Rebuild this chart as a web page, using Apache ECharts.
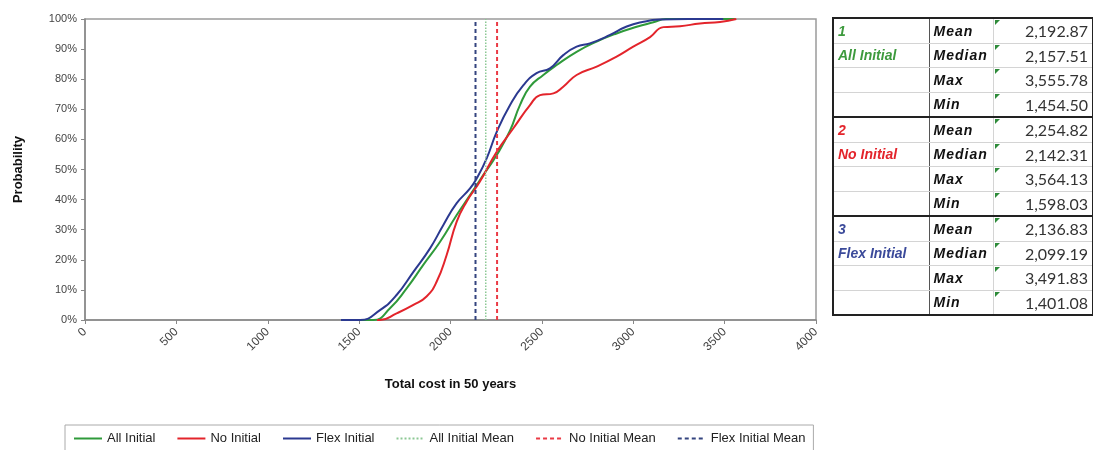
<!DOCTYPE html>
<html lang="en">

<head>
  <meta charset="UTF-8">
  <title>Total cost in 50 years - cumulative probability</title>
  <script src="https://cdn.jsdelivr.net/npm/echarts@6/dist/echarts.min.js"></script>
  <style>
    body {
      margin: 0;
      background: #fff;
      font-family: "Liberation Sans", Arial, sans-serif;
    }

    #wrap {
      position: relative;
      width: 1093px;
      height: 450px;
    }

    #chart {
      width: 1093px;
      height: 450px;
    }

    #stats {
      position: absolute;
      left: 832px;
      top: 17px;
      width: 260px;
      border-collapse: collapse;
      border: 2px solid #222;
      table-layout: fixed;
    }

    #stats td {
      height: 23.5px;
      padding: 0 4px;
      border: 1px solid #d4d4d4;
      font-size: 14px;
      white-space: nowrap;
      overflow: hidden;
    }

    #stats td.grp {
      font-weight: bold;
      font-style: italic;
      border-right: 1px solid #555;
    }

    #stats td.stat {
      font-weight: bold;
      font-style: italic;
      letter-spacing: 1px;
      color: #111;
    }

    #stats td.num {
      position: relative;
      text-align: right;
      font-family: Lato, "Open Sans", sans-serif;
      font-size: 16px;
      color: #333;
    }

    #stats td.num::before {
      content: "";
      position: absolute;
      left: 1px;
      top: 1px;
      border-top: 5px solid #2e8b3a;
      border-right: 5px solid transparent;
    }

    #stats tr.sep td {
      border-top: 2px solid #222;
    }
  </style>
</head>

<body>
<div id="wrap">
  <div id="chart"></div>
  <table id="stats"></table>
</div>
</body>

<script>
  // cumulative curves: cost (x) and probability in % (y)
  let allCost = [1454, 1578, 1669, 1760, 1851, 1943, 2034, 2107, 2180, 2253, 2326, 2380, 2435, 2508, 2581, 2690, 2800, 2909, 3019, 3110, 3180, 3556];
  let allProb = [0, 0, 3.9, 10.5, 18.3, 26, 34.9, 41.5, 48.2, 54.8, 63, 71.4, 77.5, 81.4, 84.7, 89.1, 92.5, 95.2, 97.4, 98.9, 100, 100];

  let noCost = [1598, 1614, 1705, 1797, 1869, 1924, 1979, 2034, 2088, 2161, 2253, 2344, 2435, 2490, 2563, 2617, 2690, 2800, 2909, 3000, 3092, 3165, 3256, 3365, 3475, 3564];
  let noProb = [0, 0, 2.2, 5, 7.8, 12.7, 21.6, 32.7, 39.3, 46, 55.9, 63.7, 71.4, 74.7, 75.3, 77.5, 81.4, 84.2, 87.5, 90.8, 94, 97.3, 97.6, 98.5, 99, 100];

  let flexCost = [1401, 1505, 1614, 1705, 1797, 1888, 1961, 2034, 2107, 2143, 2198, 2253, 2326, 2399, 2471, 2544, 2617, 2690, 2763, 2873, 2964, 3050, 3146, 3300, 3492];
  let flexProb = [0, 0, 3.3, 8.3, 16, 23.8, 31.6, 38.8, 43.7, 47, 53.7, 62.5, 71.4, 78, 82, 83.6, 88, 90.8, 91.9, 94.7, 97.5, 99, 99.8, 100, 100];

  // summary table
  let groupNames = ['All Initial', 'No Initial', 'Flex Initial'];
  let groupColors = ['#3d9a3d', '#e3242b', '#3b4a9a'];
  let statNames = ['Mean', 'Median', 'Max', 'Min'];
  let allStats = [2192.87, 2157.51, 3555.78, 1454.50];
  let noStats = [2254.82, 2142.31, 3564.13, 1598.03];
  let flexStats = [2136.83, 2099.19, 3491.83, 1401.08];

  let xTicks = [0, 4000, 500];
  let yTicks = [0, 100, 10];

  function pairs(xs, ys) {
    return xs.map(function (x, i) {
      return [x, ys[i]];
    });
  }

  function curve(name, color, xs, ys) {
    return {
      name: name,
      type: 'line',
      smooth: 0.5,
      symbol: 'none',
      lineStyle: {color: color, width: 2},
      itemStyle: {color: color},
      data: pairs(xs, ys)
    };
  }

  function meanLine(name, color, value, type, width) {
    return {
      name: name,
      type: 'line',
      symbol: 'none',
      lineStyle: {color: color, width: width, type: type},
      itemStyle: {color: color},
      data: [[value, yTicks[0]], [value, yTicks[1]]]
    };
  }

  let axisFont = {fontFamily: 'Liberation Sans', fontSize: 12, color: '#444'};

  echarts.init(document.getElementById('chart')).setOption({
    animation: false,
    textStyle: {fontFamily: 'Liberation Sans'},
    grid: {
      left: 85, right: 277, top: 19, bottom: 130,
      show: true, borderColor: '#9a9a9a', borderWidth: 1.5, backgroundColor: '#fff'
    },
    legend: {
      left: 65,
      top: 425,
      padding: [7, 8],
      itemGap: 21,
      itemWidth: 28,
      itemHeight: 10,
      borderColor: '#aaa',
      borderWidth: 1,
      itemStyle: {opacity: 0},
      textStyle: {fontFamily: 'Liberation Sans', fontSize: 13, color: '#222'}
    },
    xAxis: {
      type: 'value',
      min: xTicks[0], max: xTicks[1], interval: xTicks[2],
      name: 'Total cost in 50 years',
      nameLocation: 'middle',
      nameGap: 58,
      nameTextStyle: {fontFamily: 'Liberation Sans', fontSize: 13, fontWeight: 'bold', color: '#111'},
      axisLine: {lineStyle: {color: '#888', width: 1.5}},
      axisTick: {show: true, length: 4, lineStyle: {color: '#888'}},
      splitLine: {show: false},
      axisLabel: Object.assign({
        rotate: 45, margin: 10,
        formatter: function (v) {
          return String(v);
        }
      }, axisFont)
    },
    yAxis: {
      type: 'value',
      min: yTicks[0], max: yTicks[1], interval: yTicks[2],
      name: 'Probability',
      nameLocation: 'middle',
      nameGap: 60,
      nameTextStyle: {fontFamily: 'Liberation Sans', fontSize: 13, fontWeight: 'bold', color: '#111'},
      axisLine: {show: true, lineStyle: {color: '#888', width: 1.5}},
      axisTick: {show: true, length: 4, lineStyle: {color: '#888'}},
      splitLine: {show: false},
      axisLabel: Object.assign({formatter: '{value}%', margin: 8}, axisFont, {fontSize: 11})
    },
    series: [
      curve('All Initial', '#2f9a3a', allCost, allProb),
      curve('No Initial', '#e3242b', noCost, noProb),
      curve('Flex Initial', '#2b3990', flexCost, flexProb),
      meanLine('All Initial Mean', '#8cc894', allStats[0], 'dotted', 1.5),
      meanLine('No Initial Mean', '#ea3a45', noStats[0], [4, 3], 2),
      meanLine('Flex Initial Mean', '#34447f', flexStats[0], [4, 3], 2)
    ]
  });

  // build the stats table from the arrays
  let groupStats = [allStats, noStats, flexStats];
  let html = '<colgroup><col style="width:96px"><col style="width:64px"><col style="width:100px"></colgroup>';
  groupNames.forEach(function (g, gi) {
    statNames.forEach(function (s, si) {
      let first = '';
      if (si === 0) first = String(gi + 1);
      if (si === 1) first = g;
      html += '<tr' + (gi > 0 && si === 0 ? ' class="sep"' : '') + '>' +
        '<td class="grp" style="color:' + groupColors[gi] + '">' + first + '</td>' +
        '<td class="stat">' + s + '</td>' +
        '<td class="num">' + groupStats[gi][si].toLocaleString('en-US', {minimumFractionDigits: 2, maximumFractionDigits: 2}) + '</td>' +
        '</tr>';
    });
  });
  document.getElementById('stats').innerHTML = html;
</script>

</html>
